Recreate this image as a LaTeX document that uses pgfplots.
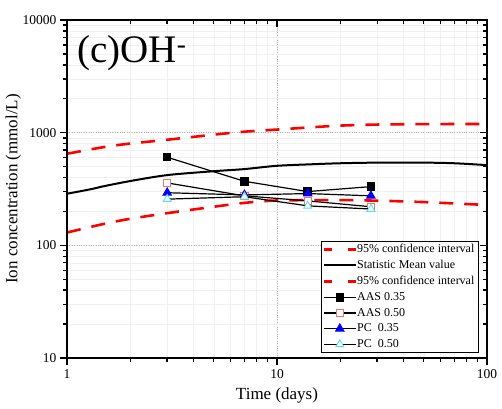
\documentclass[border=0pt]{standalone}
\usepackage{fontspec}
\setmainfont{Liberation Serif}
\usepackage{pgfplots}
\pgfplotsset{compat=1.18}
\usetikzlibrary{calc}
\definecolor{ciRed}{RGB}{255,0,0}
\definecolor{aasRed}{RGB}{235,120,110}
\definecolor{pcBlue}{RGB}{0,0,255}
\definecolor{pcCyan}{RGB}{90,225,240}

\begin{document}
\begin{tikzpicture}
\begin{axis}[
  xmode=log, ymode=log,
  scale only axis,
  width=420bp, height=338bp,
  xmin=1, xmax=100,
  ymin=10, ymax=10000,
  axis line style={line width=1.2bp},
  tickwidth=7bp, subtickwidth=4.5bp,
  tick style={color=black, line width=1.4bp},
  name=ax,
  tick align=outside,
  xtick pos=left, ytick pos=left,
  xtick={1,10,100}, xticklabels={1,10,100},
  ytick={10,100,1000,10000}, yticklabels={10,100,1000,10000},
  /pgf/number format/assume math mode=true,
  tick label style={font=\fontsize{13.5bp}{15bp}\selectfont},
  xticklabel style={yshift=-1bp},
  xlabel={Time (days)},
  ylabel={Ion concentration (mmol/L)},
  label style={font=\fontsize{17bp}{19bp}\selectfont},
  xlabel style={at={(axis description cs:0.5,-0.112)}, anchor=center},
  ylabel style={at={(axis description cs:-0.128,0.5)}, anchor=center},
  grid=both,
  major grid style={draw=gray!60, dotted, line width=0.6bp},
  minor grid style={draw=gray!12, line width=0.5bp},
  legend cell align=left,
  legend style={
    at={(0.979,0.015)}, anchor=south east,
    draw=black, line width=0.6bp, fill=white,
    font=\fontsize{12bp}{13bp}\selectfont,
    row sep=2.2bp, inner sep=1.5bp,
    /tikz/every odd column/.append style={column sep=-2bp},
  },
  legend image code/.code={
    \draw[mark repeat=2,mark phase=2] plot coordinates {(0bp,0bp)(16bp,0bp)(32bp,0bp)};
  },
  clip mode=individual,
]
% upper confidence bound
\addplot[ciRed, line width=2.6bp, dash pattern=on 14bp off 11bp, smooth,
  legend image post style={dash pattern=on 8bp off 16bp}] coordinates {
  (1,650) (1.5,745) (2,800) (3,865) (5,960) (7,1020) (10,1065) (15,1120)
  (20,1155) (30,1180) (50,1190) (100,1195)
};
\addlegendentry{95\% confidence interval}
% mean
\addplot[black, line width=2bp, smooth] coordinates {
  (1,287) (1.3,315) (1.5,335) (2,372) (3,420) (5,455) (7,475) (10,508)
  (15,525) (20,535) (30,542) (50,542) (70,535) (100,515)
};
\addlegendentry{Statistic Mean value}
% lower confidence bound
\addplot[ciRed, line width=2.6bp, dash pattern=on 14bp off 11bp, smooth,
  legend image post style={dash pattern=on 8bp off 16bp}] coordinates {
  (1,130) (1.5,155) (2,172) (3,193) (5,220) (7,238) (10,250) (20,252)
  (30,249) (50,242) (100,228)
};
\addlegendentry{95\% confidence interval}
% measurements
\addplot[black, line width=1.2bp, mark=square*, mark size=3.6bp,
  mark options={solid, draw=black, fill=black}] coordinates {
  (3,605) (7,370) (14,300) (28,332)
};
\addlegendentry{AAS 0.35}
\addplot[black, line width=1.2bp, mark=square*, mark size=3.6bp,
  mark options={solid, draw=aasRed, fill=white, line width=0.9bp}] coordinates {
  (3,358) (7,275) (14,248) (28,220)
};
\addlegendentry{AAS 0.50}
\addplot[black, line width=1.2bp, mark=triangle*, mark size=4.6bp,
  mark options={solid, draw=pcBlue, fill=pcBlue}] coordinates {
  (3,293) (7,280) (14,288) (28,275)
};
\addlegendentry{PC\ \ 0.35}
\addplot[black, line width=1.2bp, mark=triangle*, mark size=4.6bp,
  mark options={solid, draw=pcCyan, fill=white, line width=0.9bp}] coordinates {
  (3,257) (7,270) (14,224) (28,210)
};
\addlegendentry{PC\ \ 0.50}
\node[anchor=base west, inner sep=0pt, font=\fontsize{39bp}{40bp}\selectfont]
  at (axis description cs:0.024,0.873) {(c)OH\textsuperscript{-}};
\end{axis}
\begin{axis}[
  xmode=log, ymode=log,
  scale only axis,
  width=420bp, height=338bp,
  xmin=1, xmax=100,
  ymin=10, ymax=10000,
  axis line style={line width=1.2bp},
  tickwidth=7bp, subtickwidth=4.5bp,
  tick style={color=black, line width=1.4bp},
  tick align=inside,
  xtick pos=right, ytick pos=right,
  xtick={1,10,100}, ytick={10,100,1000,10000},
  xticklabels={}, yticklabels={},
]
\end{axis}
\pgfresetboundingbox
\path[use as bounding box] ($(ax.south west)+(-67bp,-51bp)$) rectangle ($(ax.north east)+(15bp,20bp)$);
\end{tikzpicture}
\end{document}
